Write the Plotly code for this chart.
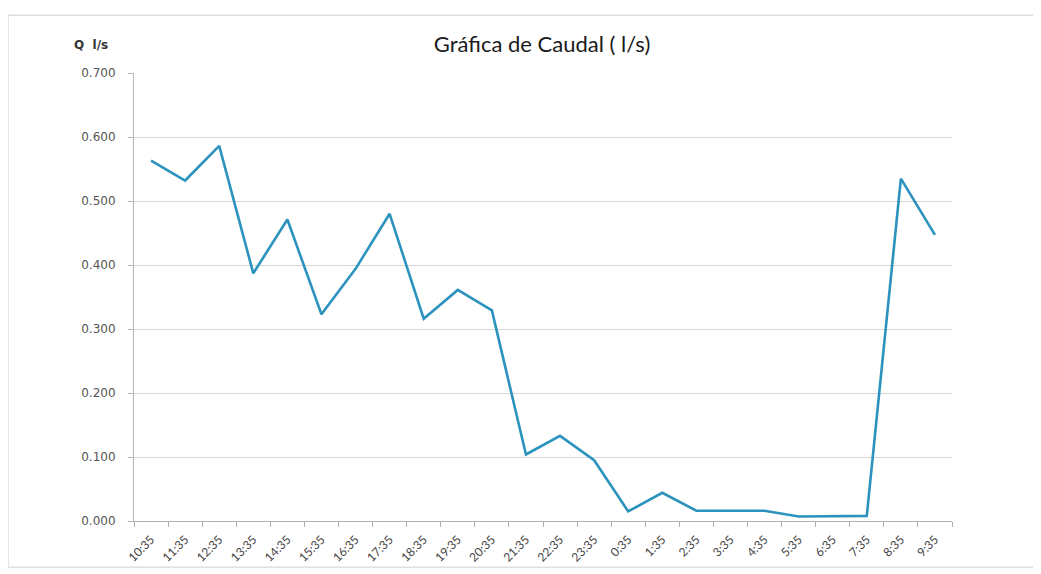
import plotly.graph_objects as go

horas = ["10:35", "11:35", "12:35", "13:35", "14:35", "15:35", "16:35", "17:35",
         "18:35", "19:35", "20:35", "21:35", "22:35", "23:35", "0:35", "1:35",
         "2:35", "3:35", "4:35", "5:35", "6:35", "7:35", "8:35", "9:35"]
caudal = [0.563, 0.532, 0.586, 0.387, 0.471, 0.323, 0.394, 0.480,
          0.316, 0.361, 0.329, 0.104, 0.133, 0.095, 0.015, 0.044,
          0.016, 0.016, 0.016, 0.007, 0.007, 0.008, 0.535, 0.447]
y_ticks = [0.0, 0.1, 0.2, 0.3, 0.4, 0.5, 0.6, 0.7]

fig = go.Figure()
fig.add_trace(go.Scatter(x=horas, y=caudal, mode="lines",
                         line=dict(color="#2b93bd", width=2.6), showlegend=False))

# marco exterior del grafico (el borde derecho queda fuera de la imagen)
fig.add_shape(type="rect", xref="paper", yref="paper",
              x0=-0.154, x1=1.13, y0=-0.103, y1=1.129,
              line=dict(color="#cfcfcf", width=1), layer="below")

fig.add_annotation(text="<b>Q  l/s</b>", xref="paper", yref="paper",
                   x=-0.076, y=1.063, xanchor="left", yanchor="middle",
                   showarrow=False, font=dict(family="DejaVu Sans", size=12, color="#333333"))

# la pagina agrega 8 px de margen, se descuentan aqui
fig.update_layout(
    width=1033, height=566,
    margin=dict(l=126, r=89, t=65, b=53),
    paper_bgcolor="white", plot_bgcolor="white",
    title=dict(text="Gráfica de Caudal ( l/s)", x=0.517, xanchor="center",
               y=0.935, yanchor="middle",
               font=dict(family="Lato", size=22, color="#1a1a1a")),
    xaxis=dict(type="category", tickangle=-45, tickson="boundaries",
               range=[-0.5, len(horas) - 0.5],
               ticks="outside", ticklen=5, tickcolor="#b0b0b0",
               showline=True, linecolor="#b0b0b0", showgrid=False,
               ticklabelstandoff=6, automargin=False,
               tickfont=dict(family="Lato", size=12, color="#444444")),
    yaxis=dict(range=[0, 0.7], tickvals=y_ticks, tickformat=".3f",
               showline=True, linecolor="#b8b8b8", ticks="outside", ticklen=5,
               tickcolor="#b8b8b8", gridcolor="#d6d6d6", gridwidth=1,
               ticklabelstandoff=10,
               zeroline=False, automargin=False,
               tickfont=dict(family="DejaVu Sans", size=12, color="#555555")),
)

fig.write_html("out.html")
